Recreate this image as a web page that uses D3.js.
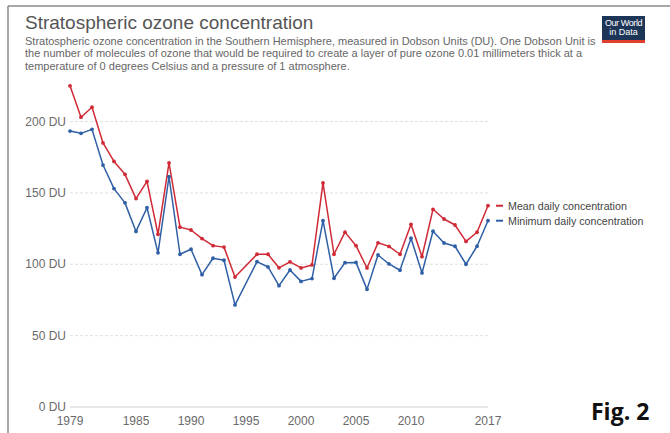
<!DOCTYPE html>
<html>
<head>
<meta charset="utf-8">
<script src="https://cdn.jsdelivr.net/npm/d3@7"></script>
<style>
  body { margin: 0; background: #fff; }
  svg { display: block; font-family: "Liberation Sans", Arial, sans-serif; }
</style>
</head>
<body>
<svg id="chart" width="670" height="433"></svg>
<script>
// ozone data, Southern Hemisphere (1995 missing in source)
var years = [1979, 1980, 1981, 1982, 1983, 1984, 1985, 1986, 1987, 1988, 1989, 1990, 1991, 1992, 1993, 1994,
  1996, 1997, 1998, 1999, 2000, 2001, 2002, 2003, 2004, 2005, 2006, 2007, 2008, 2009, 2010, 2011, 2012,
  2013, 2014, 2015, 2016, 2017];
var meanDaily = [225, 203, 210, 185, 172, 163, 146, 158, 121, 171, 126, 124, 118, 113, 112, 91,
  107, 107, 97.5, 101.7, 97.4, 99.5, 157, 107, 122.5, 113, 97.4, 115, 112.5, 107, 128, 105.3, 138.5,
  131.7, 127.5, 116, 122.4, 141];
var minDaily = [193.3, 191.7, 194.5, 169.5, 153, 143, 123, 139.6, 108, 161.3, 107, 110.5, 92.7, 104.2, 102.8, 71.5,
  101.8, 98.1, 85, 96, 88, 90, 130.5, 90.2, 101.1, 101.3, 82.4, 106.5, 100.2, 95.8, 118.2, 93.9, 123.1,
  114.9, 112.6, 100, 112.6, 130.5];
var yTicks = [0, 50, 100, 150, 200];
var xTicks = [1979, 1985, 1990, 1995, 2000, 2005, 2010, 2017];
var seriesNames = ["Mean daily concentration", "Minimum daily concentration"];
var colors = ["#cf2a36", "#2f5fa5"];

var svg = d3.select('#chart');

// frame lines
svg.append('line').attr('x1', 8).attr('x2', 670).attr('y1', 6).attr('y2', 6)
  .attr('stroke', '#8a8a8a').attr('stroke-width', 1.5);
svg.append('line').attr('x1', 8).attr('x2', 8).attr('y1', 6).attr('y2', 433)
  .attr('stroke', '#8a8a8a').attr('stroke-width', 1.5);

// title + subtitle
svg.append('text').attr('x', 25).attr('y', 29)
  .attr('font-size', 19).attr('fill', '#555').text('Stratospheric ozone concentration');
var sub = [
  'Stratospheric ozone concentration in the Southern Hemisphere, measured in Dobson Units (DU). One Dobson Unit is',
  'the number of molecules of ozone that would be required to create a layer of pure ozone 0.01 millimeters thick at a',
  'temperature of 0 degrees Celsius and a pressure of 1 atmosphere.'
];
svg.selectAll('text.sub').data(sub).enter().append('text')
  .attr('class', 'sub')
  .attr('x', 25).attr('y', function(d, i) { return 45 + i * 12.3; })
  .attr('font-size', 11).attr('fill', '#666')
  .text(function(d) { return d; });

// logo
var logo = svg.append('g');
logo.append('rect').attr('x', 602).attr('y', 16).attr('width', 43).attr('height', 27).attr('fill', '#1d3557');
logo.append('rect').attr('x', 602).attr('y', 40).attr('width', 43).attr('height', 3).attr('fill', '#e0402b');
logo.append('text').attr('x', 623.5).attr('y', 26).attr('text-anchor', 'middle')
  .attr('font-size', 9).attr('fill', '#fff').attr('letter-spacing', -0.4).text('Our World');
logo.append('text').attr('x', 623.5).attr('y', 35).attr('text-anchor', 'middle')
  .attr('font-size', 9).attr('fill', '#fff').text('in Data');

var x = d3.scaleLinear().domain([1979, 2017]).range([70, 488]);
var y = d3.scaleLinear().domain([0, 200]).range([407, 121.5]);

// grid
svg.selectAll('line.grid').data(yTicks.filter(function(d) { return d > 0; })).enter().append('line')
  .attr('class', 'grid')
  .attr('x1', 70).attr('x2', 488)
  .attr('y1', function(d) { return y(d); }).attr('y2', function(d) { return y(d); })
  .attr('stroke', '#e0e0e0').attr('stroke-dasharray', '3,2');
svg.append('line').attr('x1', 70).attr('x2', 488).attr('y1', y(0)).attr('y2', y(0))
  .attr('stroke', '#d0d0d0').attr('stroke-width', 1);

svg.selectAll('text.ylab').data(yTicks).enter().append('text')
  .attr('class', 'ylab')
  .attr('x', 66).attr('y', function(d) { return y(d) + 4; })
  .attr('text-anchor', 'end').attr('font-size', 12).attr('fill', '#6a6a6a')
  .text(function(d) { return d + ' DU'; });

svg.selectAll('text.xlab').data(xTicks).enter().append('text')
  .attr('class', 'xlab')
  .attr('x', function(d) { return x(d); }).attr('y', 425)
  .attr('text-anchor', 'middle').attr('font-size', 12).attr('fill', '#6a6a6a')
  .text(function(d) { return d; });

// series
var allSeries = [meanDaily, minDaily];
var line = d3.line()
  .x(function(d, i) { return x(years[i]); })
  .y(function(d) { return y(d); });

for (var s = 0; s < allSeries.length; s++) {
  var vals = allSeries[s];
  svg.append('path').datum(vals)
    .attr('d', line)
    .attr('fill', 'none').attr('stroke', colors[s]).attr('stroke-width', 1.5)
    .attr('stroke-linejoin', 'round');
  svg.selectAll('circle.s' + s).data(vals).enter().append('circle')
    .attr('class', 's' + s)
    .attr('cx', function(d, i) { return x(years[i]); })
    .attr('cy', function(d) { return y(d); })
    .attr('r', 1.9)
    .attr('fill', colors[s]);

  var ly = y(vals[vals.length - 1]);
  svg.append('line').attr('x1', 496).attr('x2', 503).attr('y1', ly).attr('y2', ly)
    .attr('stroke', colors[s]).attr('stroke-width', 2);
  svg.append('text').attr('x', 508).attr('y', ly + 4)
    .attr('font-size', 10.7).attr('fill', '#444').text(seriesNames[s]);
}

// figure label
svg.append('text').attr('x', 591).attr('y', 420)
  .attr('font-family', '"Open Sans", sans-serif').attr('font-weight', 'bold')
  .attr('font-size', 23).attr('fill', '#111').text('Fig. 2');
</script>
</body>
</html>
